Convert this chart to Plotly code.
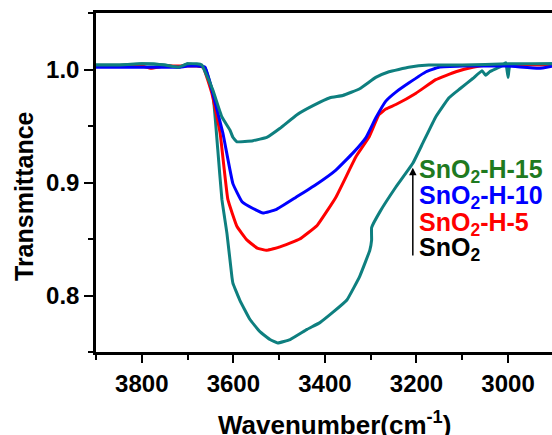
import plotly.graph_objects as go

# FTIR spectra in the O-H stretching region (wavenumber in cm^-1, transmittance)
wn_h15 = [3900, 3850, 3800, 3750, 3720, 3700, 3680, 3669, 3645, 3625, 3607, 3601, 3592, 3557,
          3527, 3498, 3461, 3426, 3389, 3361, 3324, 3289, 3260, 3217, 3173, 3100, 3000, 2904]
t_h15 = [1.004, 1.004, 1.005, 1.004, 1.002, 1.005, 1.005, 1.004, 0.982, 0.958, 0.946, 0.940,
         0.936, 0.937, 0.940, 0.948, 0.960, 0.968, 0.975, 0.977, 0.983, 0.993, 0.998, 1.002,
         1.004, 1.004, 1.005, 1.005]

wn_h10 = [3900, 3850, 3800, 3750, 3720, 3700, 3680, 3662, 3645, 3623, 3601, 3581, 3557, 3535,
          3507, 3463, 3420, 3376, 3339, 3310, 3289, 3267, 3245, 3217, 3179, 3151, 3099, 3000,
          2933, 2904]
t_h10 = [1.002, 1.002, 1.002, 1.002, 1.002, 1.003, 1.003, 1.002, 0.979, 0.944, 0.899, 0.883,
         0.877, 0.873, 0.876, 0.887, 0.898, 0.911, 0.926, 0.940, 0.957, 0.972, 0.980, 0.988,
         0.998, 1.002, 1.003, 1.003, 1.001, 1.003]

wn_h5 = [3900, 3850, 3800, 3780, 3750, 3700, 3680, 3666, 3647, 3629, 3612, 3592, 3570, 3548,
         3527, 3498, 3455, 3417, 3376, 3332, 3304, 3282, 3267, 3245, 3201, 3158, 3114, 3077,
         3042, 2904]
t_h5 = [1.003, 1.003, 1.003, 1.001, 1.003, 1.003, 1.003, 1.002, 0.979, 0.944, 0.885, 0.861,
        0.849, 0.842, 0.840, 0.843, 0.850, 0.862, 0.887, 0.923, 0.940, 0.960, 0.965, 0.969,
        0.979, 0.991, 0.998, 1.002, 1.004, 1.004]

wn_sno2 = [3900, 3850, 3800, 3750, 3720, 3700, 3673, 3662, 3645, 3634, 3625, 3614, 3603, 3601,
           3586, 3564, 3542, 3520, 3503, 3476, 3439, 3411, 3383, 3352, 3324, 3302, 3298, 3298,
           3280, 3245, 3208, 3186, 3158, 3129, 3105, 3077, 3057, 3049, 3040, 3014, 3005, 3000,
           2996, 2974, 2904]
t_sno2 = [1.004, 1.004, 1.005, 1.004, 1.002, 1.005, 1.003, 1.002, 0.980, 0.929, 0.885, 0.855,
          0.816, 0.811, 0.796, 0.779, 0.768, 0.761, 0.758, 0.761, 0.770, 0.776, 0.785, 0.796,
          0.817, 0.840, 0.849, 0.860, 0.874, 0.896, 0.917, 0.935, 0.958, 0.975, 0.983, 0.992,
          0.999, 0.995, 0.998, 1.003, 1.006, 0.993, 1.004, 1.004, 1.005]

labels = ["SnO<sub>2</sub>-H-15", "SnO<sub>2</sub>-H-10", "SnO<sub>2</sub>-H-5", "SnO<sub>2</sub>"]
label_colors = ["#1f7a1f", "#0000ff", "#ff0000", "#000000"]
label_y = [0.9105, 0.8875, 0.8636, 0.8415]

TEAL = "#0e7f7f"
FONT = "Liberation Sans, Arial, sans-serif"

fig = go.Figure()
series = [
    (wn_sno2, t_sno2, TEAL),
    (wn_h5, t_h5, "#ff0000"),
    (wn_h10, t_h10, "#0000ff"),
    (wn_h15, t_h15, TEAL),
]
for xs, ys, c in series:
    fig.add_trace(go.Scatter(x=xs, y=ys, mode="lines",
                             line=dict(color=c, width=3, shape="spline", smoothing=0.3),
                             showlegend=False))

axis_common = dict(
    showline=True, linecolor="black", linewidth=2.5,
    ticks="outside", tickcolor="black", tickwidth=2,
    showgrid=False, zeroline=False,
    tickfont=dict(family=FONT, size=24, color="black", weight="bold"),
)
fig.update_xaxes(range=[3900, 2904], tick0=3000, dtick=200, ticklen=8, mirror=True,
                 minor=dict(dtick=100, tick0=3000, ticklen=5, tickwidth=2, tickcolor="black", ticks="outside"),
                 **axis_common)
fig.update_yaxes(range=[0.75, 1.05], tick0=0.8, dtick=0.1, tickformat=".1f", ticklen=9,
                 minor=dict(dtick=0.05, tick0=0.75, ticklen=5, tickwidth=2, tickcolor="black", ticks="outside"),
                 **axis_common)

annotations = []
for txt, col, yv in zip(labels, label_colors, label_y):
    annotations.append(dict(x=3199, y=yv, xref="x", yref="y", text=txt, showarrow=False,
                            xanchor="left", yanchor="middle",
                            font=dict(family=FONT, size=25, color=col, weight="bold")))
# arrow indicating the trend from SnO2 to SnO2-H-15
annotations.append(dict(x=3208, y=0.913, xref="x", yref="y", ax=3208, ay=0.834,
                        axref="x", ayref="y", text="", showarrow=True,
                        arrowhead=2, arrowsize=1, arrowwidth=1.5, arrowcolor="black"))
annotations.append(dict(x=-0.158, y=0.46, xref="paper", yref="paper", text="Transmittance",
                        textangle=-90, showarrow=False, xanchor="center", yanchor="middle",
                        font=dict(family=FONT, size=25, color="black", weight="bold")))
annotations.append(dict(x=0.524, y=-0.265, xref="paper", yref="paper",
                        text="Wavenumber(cm<sup>-1</sup>)", showarrow=False,
                        xanchor="center", yanchor="bottom",
                        font=dict(family=FONT, size=26, color="black", weight="bold")))

fig.update_layout(width=552, height=435, margin=dict(l=96, r=0, t=13, b=83),
                  paper_bgcolor="white", plot_bgcolor="white", annotations=annotations)

fig.write_html("out.html")
